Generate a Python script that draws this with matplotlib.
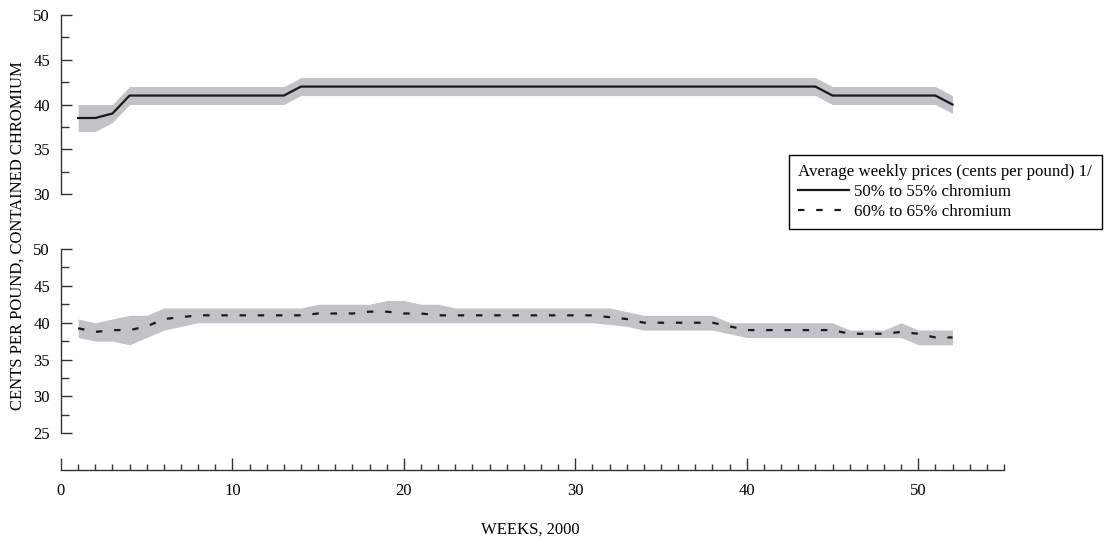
import matplotlib.pyplot as plt
from matplotlib.ticker import MultipleLocator
from matplotlib.lines import Line2D

# weekly data, 2000 (weeks 1-52)
weeks = list(range(1, 53))

# 50% to 55% chromium
price_50 = [38.5, 38.5, 39, 41, 41, 41, 41, 41, 41, 41, 41, 41, 41,
            42, 42, 42, 42, 42, 42, 42, 42, 42, 42, 42, 42, 42,
            42, 42, 42, 42, 42, 42, 42, 42, 42, 42, 42, 42, 42,
            42, 42, 42, 42, 42, 41, 41, 41, 41, 41, 41, 41, 40]
low_50 = [37, 37, 38, 40, 40, 40, 40, 40, 40, 40, 40, 40, 40,
          41, 41, 41, 41, 41, 41, 41, 41, 41, 41, 41, 41, 41,
          41, 41, 41, 41, 41, 41, 41, 41, 41, 41, 41, 41, 41,
          41, 41, 41, 41, 41, 40, 40, 40, 40, 40, 40, 40, 39]
high_50 = [40, 40, 40, 42, 42, 42, 42, 42, 42, 42, 42, 42, 42,
           43, 43, 43, 43, 43, 43, 43, 43, 43, 43, 43, 43, 43,
           43, 43, 43, 43, 43, 43, 43, 43, 43, 43, 43, 43, 43,
           43, 43, 43, 43, 43, 42, 42, 42, 42, 42, 42, 42, 41]

# 60% to 65% chromium
price_60 = [39.25, 38.75, 39, 39, 39.5, 40.5, 40.75, 41, 41, 41, 41, 41, 41,
            41, 41.25, 41.25, 41.25, 41.5, 41.5, 41.25, 41.25, 41, 41, 41, 41, 41,
            41, 41, 41, 41, 41, 40.75, 40.5, 40, 40, 40, 40, 40, 39.5,
            39, 39, 39, 39, 39, 39, 38.5, 38.5, 38.5, 38.75, 38.5, 38, 38]
low_60 = [38, 37.5, 37.5, 37, 38, 39, 39.5, 40, 40, 40, 40, 40, 40,
          40, 40, 40, 40, 40, 40, 40, 40, 40, 40, 40, 40, 40,
          40, 40, 40, 40, 40, 39.75, 39.5, 39, 39, 39, 39, 39, 38.5,
          38, 38, 38, 38, 38, 38, 38, 38, 38, 38, 37, 37, 37]
high_60 = [40.5, 40, 40.5, 41, 41, 42, 42, 42, 42, 42, 42, 42, 42,
           42, 42.5, 42.5, 42.5, 42.5, 43, 43, 42.5, 42.5, 42, 42, 42, 42,
           42, 42, 42, 42, 42, 42, 41.5, 41, 41, 41, 41, 41, 40,
           40, 40, 40, 40, 40, 40, 39, 39, 39, 40, 39, 39, 39]

band_color = '#c1c3c9'
line_color = '#1a1a1a'
spine_color = '#333333'
dash = (0, (2.9, 5.3))

plt.rcParams['font.family'] = ['Liberation Serif', 'DejaVu Serif']
plt.rcParams['font.size'] = 12

fig = plt.figure(figsize=(11.17, 5.44), dpi=100)
left, width = 0.0546, 0.8442
ax1 = fig.add_axes([left, 0.6428, width, 0.3301])
ax2 = fig.add_axes([left, 0.2035, width, 0.3388])
ax3 = fig.add_axes([left, 0.136, width, 0.0001])

for ax in (ax1, ax2, ax3):
    ax.set_xlim(0, 55)
    ax.patch.set_alpha(0)
    for s in ('top', 'right'):
        ax.spines[s].set_visible(False)

for ax, ylo in ((ax1, 30), (ax2, 25)):
    ax.spines['bottom'].set_visible(False)
    ax.spines['left'].set_color(spine_color)
    ax.spines['left'].set_linewidth(1)
    ax.set_ylim(ylo, 50)
    ax.yaxis.set_major_locator(MultipleLocator(5))
    ax.yaxis.set_minor_locator(MultipleLocator(2.5))
    ax.tick_params(axis='y', which='both', direction='in', color=spine_color,
                   width=1, pad=8, labelsize=12)
    ax.tick_params(axis='y', which='major', length=8)
    ax.tick_params(axis='y', which='minor', length=6)
    ax.set_xticks([])

ax1.fill_between(weeks, low_50, high_50, color=band_color, lw=0)
ax1.plot(weeks, price_50, color=line_color, lw=1.6)

ax2.fill_between(weeks, low_60, high_60, color=band_color, lw=0)
ax2.plot(weeks, price_60, color=line_color, lw=1.6, linestyle=dash)

ax3.spines['left'].set_visible(False)
ax3.spines['bottom'].set_color(spine_color)
ax3.spines['bottom'].set_linewidth(1)
ax3.set_yticks([])
ax3.set_xticks([0, 10, 20, 30, 40, 50])
ax3.set_xticks(range(0, 56), minor=True)
ax3.tick_params(axis='x', which='both', direction='in', color=spine_color,
                width=1, pad=9, labelsize=12)
ax3.tick_params(axis='x', which='major', length=8.4)
ax3.tick_params(axis='x', which='minor', length=4.3)

fig.text(18 / 1117, 0.566, 'CENTS PER POUND, CONTAINED CHROMIUM',
         rotation=90, ha='center', va='center', fontsize=12)
fig.text(530 / 1117, 0.026, 'WEEKS, 2000', ha='center', va='center', fontsize=12)

handles = [Line2D([], [], color=line_color, lw=1.6),
           Line2D([], [], color=line_color, lw=1.6, linestyle=dash)]
leg = fig.legend(handles, ['50% to 55% chromium', '60% to 65% chromium'],
                 title='Average weekly prices (cents per pound) 1/',
                 loc='upper left', bbox_to_anchor=(789 / 1117, 1 - 155 / 544),
                 frameon=True, fancybox=False, shadow=False, fontsize=12.2,
                 title_fontsize=12.2, handlelength=3.0, handletextpad=0.3,
                 labelspacing=0.22, borderpad=0.55, borderaxespad=0,
                 alignment='left')
leg.get_frame().set_edgecolor('black')
leg.get_frame().set_linewidth(1)
leg.get_frame().set_alpha(1)

fig.savefig('out.png', dpi=100)
